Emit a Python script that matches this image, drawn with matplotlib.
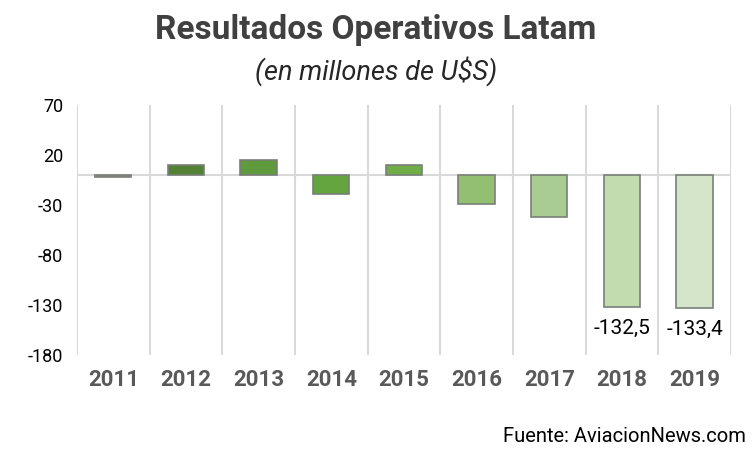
import matplotlib
matplotlib.use("Agg")
import matplotlib.pyplot as plt

years = ["2011", "2012", "2013", "2014", "2015", "2016", "2017", "2018", "2019"]
values = [-2, 10, 15, -19, 10, -29, -42, -132.5, -133.4]
labels = {7: "-132,5", 8: "-133,4"}
colors = ["#8c8c8c", "#548235", "#5f9a3c", "#65a540", "#70ad47",
          "#93bf72", "#a9cc92", "#c2dcb0", "#d5e5ca"]
yticks = [70, 20, -30, -80, -130, -180]

fig = plt.figure(figsize=(7.52, 4.49), dpi=100)
ax = fig.add_axes([0.1024, 0.2094, 0.8696, 0.5566])
x = list(range(len(years)))
ax.bar(x, values, width=0.5, color=colors, edgecolor="#7a7f78", linewidth=1.2, zorder=3)
ax.axhline(0, color="#d9d9d9", linewidth=1.5, zorder=2)
ax.set_xlim(-0.5, len(years) - 0.5)
ax.set_ylim(-180, 70)
ax.set_yticks(yticks)
ax.set_yticklabels([str(v) for v in yticks], fontsize=13, family="Roboto", color="#000000")
ax.set_xticks(x)
ax.set_xticklabels(years, fontsize=16, fontweight="bold", family="Roboto", color="#595959")
for b in [i - 0.5 for i in range(len(years) + 1)]:
    ax.axvline(b, color="#d9d9d9", linewidth=1.5, zorder=1)
for s in ax.spines.values():
    s.set_visible(False)
ax.tick_params(axis="both", length=0)
ax.tick_params(axis="x", pad=10)
ax.tick_params(axis="y", pad=10)
for i, t in labels.items():
    ax.text(i, values[i] - 11, t, ha="center", va="top", fontsize=15, family="Roboto", color="#000000")

fig.text(0.5, 0.933, "Resultados Operativos Latam", ha="center", va="center",
         fontsize=24, fontweight="bold", family="Roboto", color="#404040")
fig.text(0.5, 0.842, "(en millones de U$S)", ha="center", va="center",
         fontsize=19.5, style="italic", family="Roboto", color="#262626")
fig.text(0.992, 0.028, "Fuente: AviacionNews.com", ha="right", va="center",
         fontsize=14.5, family="Roboto", color="#000000")
fig.savefig("out.png", dpi=100)
